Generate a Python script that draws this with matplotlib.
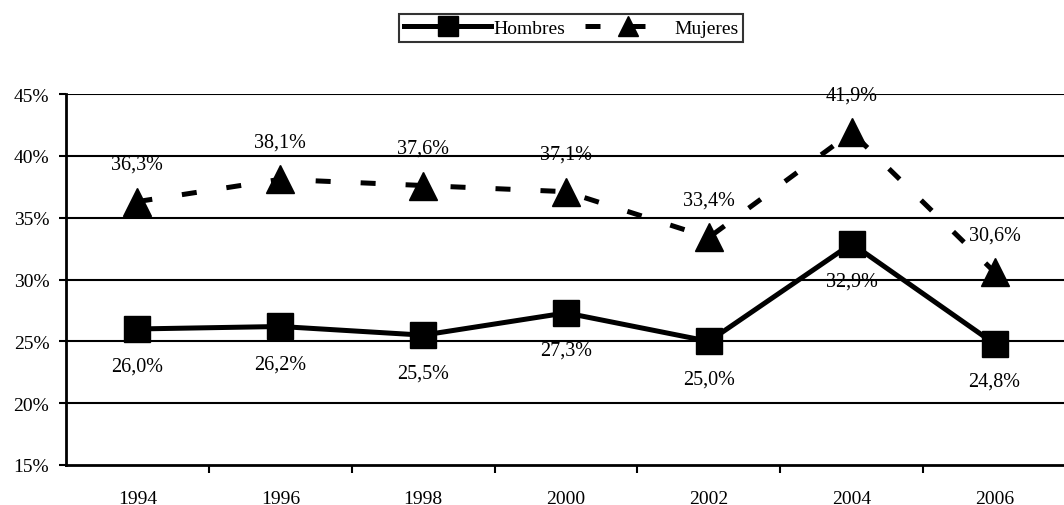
import matplotlib
matplotlib.use("Agg")
import matplotlib.pyplot as plt
from matplotlib.ticker import FixedLocator, NullFormatter

years = ["1994", "1996", "1998", "2000", "2002", "2004", "2006"]
hombres = [26.0, 26.2, 25.5, 27.3, 25.0, 32.9, 24.8]
mujeres = [36.3, 38.1, 37.6, 37.1, 33.4, 41.9, 30.6]
yticks = [15, 20, 25, 30, 35, 40, 45]

plt.rcParams['font.family'] = ['Liberation Serif', 'DejaVu Serif']
plt.rcParams['font.size'] = 14

fig = plt.figure(figsize=(10.64, 5.06), dpi=100)
ax = fig.add_axes([66/1064, 1-466/506, 1000/1064, (466-95)/506])
x = list(range(len(years)))

ax.set_xlim(-0.5, len(years) - 0.5)
ax.set_ylim(15, 45)
for t in yticks[1:]:
    ax.axhline(t, color='black', lw=1.5, zorder=1)

lh, = ax.plot(x, hombres, color='black', lw=3.6, marker='s', markersize=19,
              solid_joinstyle='miter', zorder=3, label='Hombres')
lm, = ax.plot(x, mujeres, color='black', lw=3.6, marker='^', markersize=20,
              linestyle=(0, (3.0, 6.0)), dash_capstyle='butt', zorder=3, label='Mujeres')

for xi, v in zip(x, hombres):
    ax.annotate(f"{v:.1f}%".replace('.', ','), (xi, v), xytext=(0, -27),
                textcoords='offset points', ha='center', va='center', fontsize=14.5)
for xi, v in zip(x, mujeres):
    ax.annotate(f"{v:.1f}%".replace('.', ','), (xi, v), xytext=(0, 27),
                textcoords='offset points', ha='center', va='center', fontsize=14.5)

ax.set_yticks(yticks)
ax.set_yticklabels([f"{t}%" for t in yticks])
ax.set_xticks(x)
ax.set_xticklabels(years)
ax.tick_params(axis='x', which='major', length=0, pad=18)
ax.xaxis.set_minor_locator(FixedLocator([i + 0.5 for i in range(len(years) - 1)]))
ax.xaxis.set_minor_formatter(NullFormatter())
ax.tick_params(axis='x', which='minor', length=6, width=1.5, direction='out')
ax.tick_params(axis='y', length=5, width=1.5, direction='out', pad=7)

for s in ['top', 'right']:
    ax.spines[s].set_visible(False)
ax.spines['left'].set_linewidth(2)
ax.spines['bottom'].set_linewidth(2)

leg = fig.legend(handles=[lh, lm], loc='center', bbox_to_anchor=(571/1064, 1-29/506),
                 ncol=2, frameon=True, fancybox=False, edgecolor='black',
                 handlelength=4.5, handletextpad=0.1, columnspacing=1.0,
                 borderpad=0.25, fontsize=14, markerscale=0.75)
leg.get_frame().set_linewidth(1.5)

fig.savefig("out.png", dpi=100)
